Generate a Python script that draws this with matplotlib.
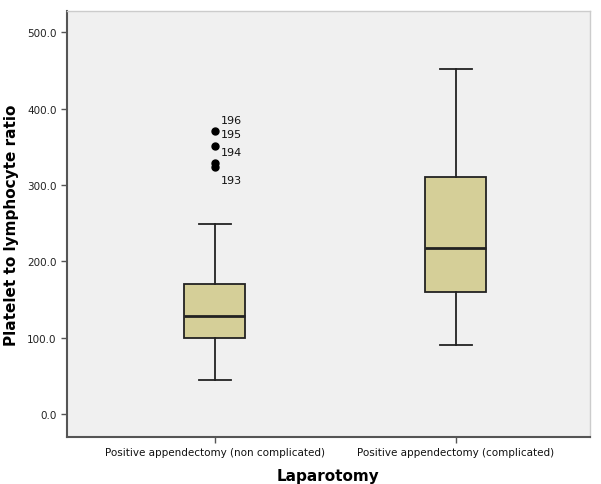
import matplotlib
matplotlib.use("Agg")
import matplotlib.pyplot as plt

categories = ["Positive appendectomy (non complicated)", "Positive appendectomy (complicated)"]
q1 = [99.5, 160.0]
median = [128.0, 217.0]
q3 = [170.0, 310.0]
whislo = [44.5, 90.5]
whishi = [249.0, 452.0]
outliers_1 = [370.0, 351.0, 329.0, 324.0]
outlier_labels_1 = ["196", "195", "194", "193"]
label_values_1 = [385.0, 366.0, 343.0, 307.0]
yticks = [0, 100, 200, 300, 400, 500]

fig = plt.figure(figsize=(6.01, 4.85), dpi=100)
ax = fig.add_axes([0.1115, 0.097, 0.870, 0.878])
ax.set_facecolor("#f0f0f0")

stats = []
fliers = [outliers_1, []]
for i, c in enumerate(categories):
    stats.append(dict(label=c, q1=q1[i], med=median[i], q3=q3[i],
                      whislo=whislo[i], whishi=whishi[i], fliers=fliers[i]))

ax.bxp(stats, positions=[0, 1], widths=0.253, patch_artist=True, capwidths=0.13,
       boxprops=dict(facecolor="#d5cf98", edgecolor="#222222", linewidth=1.3),
       medianprops=dict(color="#222222", linewidth=2.0),
       whiskerprops=dict(color="#222222", linewidth=1.3),
       capprops=dict(color="#222222", linewidth=1.3),
       flierprops=dict(marker="o", markerfacecolor="black", markeredgecolor="black", markersize=5))

for lab, v in zip(outlier_labels_1, label_values_1):
    ax.text(0.025, v, lab, fontsize=8, ha="left", va="center", color="#111111")

ax.set_xlim(-0.614, 1.556)
ax.set_ylim(-30.0, 527.5)
ax.set_yticks(yticks)
ax.set_yticklabels([f"{v:.1f}" for v in yticks], fontsize=7.5, color="#222222")
ax.set_xticks([0, 1])
ax.set_xticklabels(categories, fontsize=7.5, color="#111111")
ax.tick_params(axis="both", length=4, width=1, color="#555555")
ax.set_xlabel("Laparotomy", fontsize=11, fontweight="bold", labelpad=8)
ax.set_ylabel("Platelet to lymphocyte ratio", fontsize=11, fontweight="bold", labelpad=6)
for s in ["top", "right"]:
    ax.spines[s].set_color("#cccccc")
    ax.spines[s].set_linewidth(1.0)
for s in ["left", "bottom"]:
    ax.spines[s].set_color("#555555")
    ax.spines[s].set_linewidth(1.5)

fig.savefig("out.png", dpi=100)
